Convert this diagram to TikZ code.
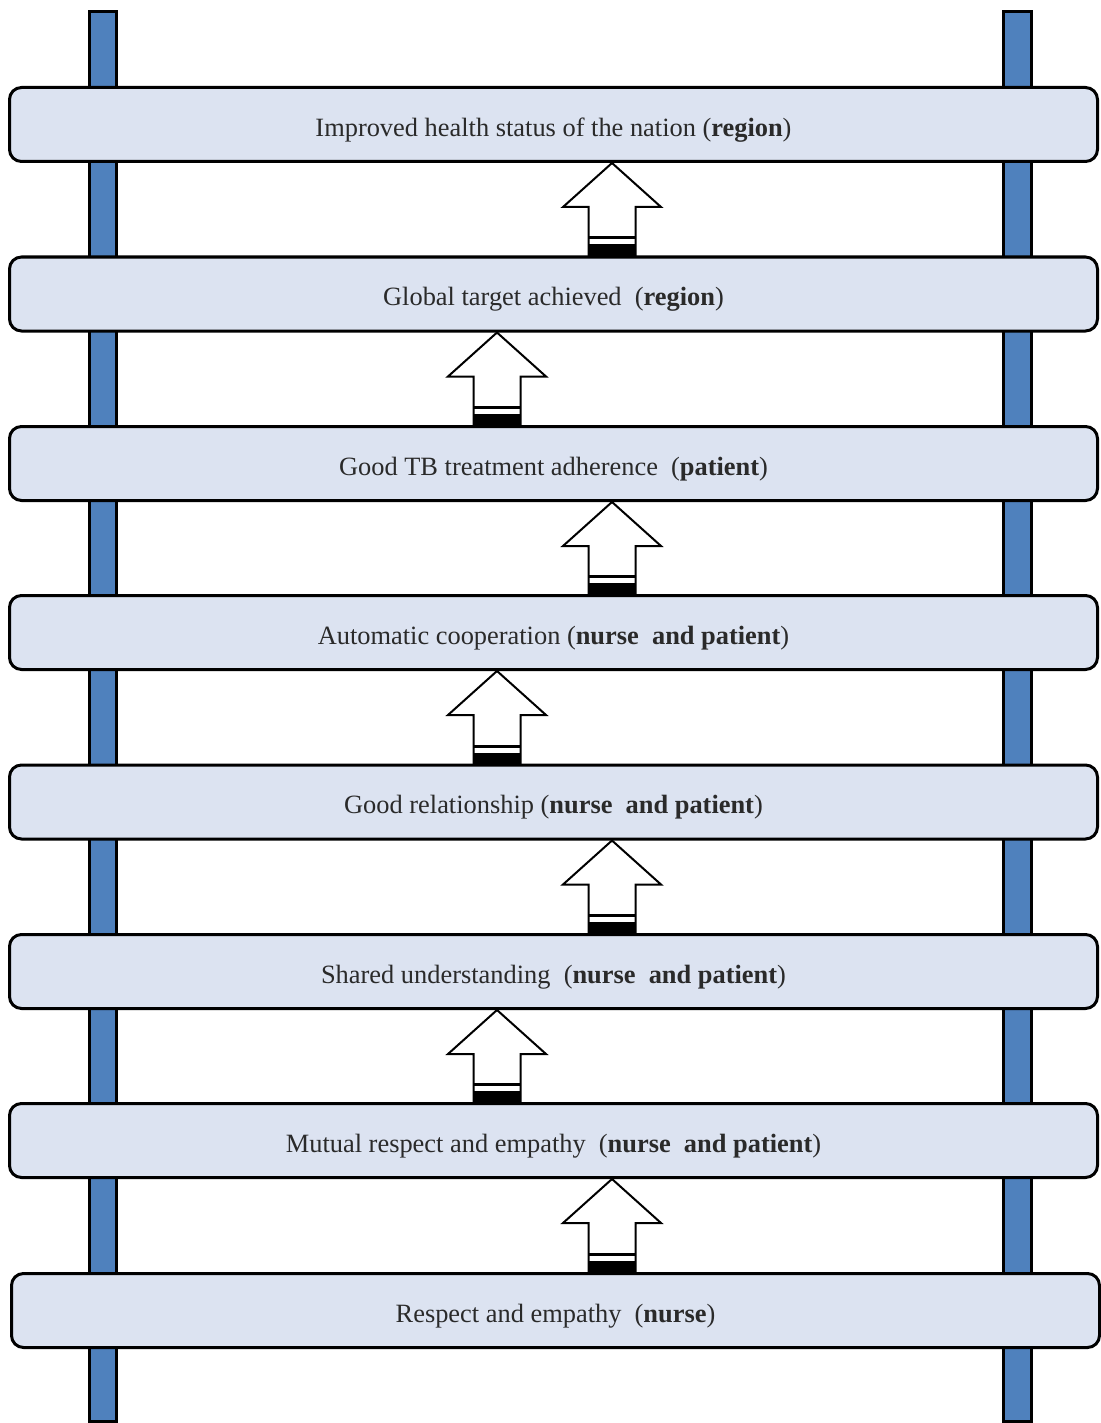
\documentclass[tikz,border=0pt]{standalone}
\usepackage{fontspec}
\setmainfont{Liberation Serif}
\usetikzlibrary{calc}
\definecolor{railblue}{HTML}{4F81BD}
\definecolor{boxfill}{HTML}{DCE3F1}
\definecolor{txt}{HTML}{2A2A2A}
\tikzset{
  rail/.style={draw=black, line width=1.5pt, fill=railblue},
  stepbox/.style={draw=black, line width=1.5pt, fill=boxfill, rounded corners=6pt,
    minimum width=544pt, minimum height=37pt, inner sep=0pt, text=txt,
    text height=15pt, text depth=3.2pt,
    font=\fontsize{13.2pt}{15pt}\selectfont},
  uparrowsty/.style={draw=black, line width=1pt, fill=white, line join=miter},
}
\newcommand\bigup[3]{%
  \path (#1.north -| #3) coordinate (base-#1) (#2.south -| #3) coordinate (tip-#1);
  \filldraw[uparrowsty] (tip-#1) -- ($(tip-#1)+(49,44)$) -- ($(tip-#1)+(23.5,44)$)
    -- ($(base-#1)+(23.5,0)$) -- ($(base-#1)+(-23.5,0)$) -- ($(tip-#1)+(-23.5,44)$)
    -- ($(tip-#1)+(-49,44)$) -- cycle;
  \fill[black] ($(base-#1)+(-23.5,-11)$) rectangle ($(base-#1)+(23.5,0)$);
  \draw[black, line width=1.5pt] ($(base-#1)+(-23.5,-17.5)$) -- ($(base-#1)+(23.5,-17.5)$);
}
\begin{document}
\begin{tikzpicture}[x=0.5pt, y=-0.5pt]
\useasboundingbox (0,0) rectangle (1101,1423);
% rails
\draw[rail] (89.5,11.5) rectangle (116.5,1421);
\draw[rail] (1003.5,11.5) rectangle (1031.5,1421);
% boxes
\node[stepbox] (b1) at (553.5,124.5) {Improved health status of the nation (\textbf{region})};
\node[stepbox] (b2) at (553.5,294) {Global target achieved\ \ (\textbf{region})};
\node[stepbox] (b3) at (553.5,463.5) {Good TB treatment adherence\ \ (\textbf{patient})};
\node[stepbox] (b4) at (553.5,632.5) {Automatic cooperation (\textbf{nurse\ \ and patient})};
\node[stepbox] (b5) at (553.5,802) {Good relationship (\textbf{nurse\ \ and patient})};
\node[stepbox] (b6) at (553.5,971.5) {Shared understanding\ \ (\textbf{nurse\ \ and patient})};
\node[stepbox] (b7) at (553.5,1140.5) {Mutual respect and empathy\ \ (\textbf{nurse\ \ and patient})};
\node[stepbox] (b8) at (555.5,1310.5) {Respect and empathy\ \ (\textbf{nurse})};
% arrow columns
\coordinate (cR) at (612,0);
\coordinate (cL) at (497,0);
\bigup{b2}{b1}{cR}
\bigup{b3}{b2}{cL}
\bigup{b4}{b3}{cR}
\bigup{b5}{b4}{cL}
\bigup{b6}{b5}{cR}
\bigup{b7}{b6}{cL}
\bigup{b8}{b7}{cR}
\end{tikzpicture}
\end{document}
